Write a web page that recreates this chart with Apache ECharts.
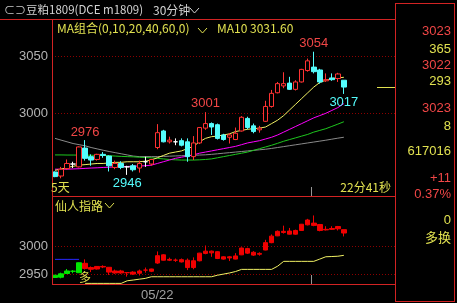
<!DOCTYPE html>
<html><head><meta charset="utf-8">
<script src="https://cdn.jsdelivr.net/npm/echarts@6/dist/echarts.min.js"></script>
<style>html,body{margin:0;padding:0;background:#000;}#c{width:457px;height:303px;}</style>
</head><body><div id="c"></div>
<script>
// ---------- data ----------
const categories = (function(){ const a=[]; for(let i=0;i<57;i++) a.push(i===17?'05/22':''); return a; })();
const opens  = [2948.5,2945,2951.5,2955.5,2953,2969.5,2962,2959.5,2964,2962.5,2952.5,2956,2953,2954,2952,2957.5,2955.5,2970,2984.5,2975,2975,2976,2975,2962,2974,2987,2991,2990,2981,2979,2977,2984.5,2995.5,2989,2985.5,2993,3006,3018,3024,3026.5,3021,3027.5,3037.5,3040.5,3038,3028.5,3031,3030.5,3029];
const closes = [2944.5,2951,2956,2955.5,2970.5,2960.5,2959,2964,2963,2954,2956,2952.5,2953,2950.5,2956,2957.5,2959.5,2983,2975,2976.5,2975,2972,2962,2974,2987.5,2991,2988,2978,2977,2981,2982.5,2996.5,2987.5,2984,2987,3006,3017.5,3026,3026,3021,3027.5,3038.5,3046,3036.5,3027.5,3029.5,3029.5,3034.5,3023];
const lows   = [2944,2943,2950.5,2952,2952.5,2958.5,2954,2958.5,2961,2949,2951,2951,2946,2949,2948,2953,2954,2968.5,2974.5,2973.5,2972,2971,2957.5,2959,2973,2985.5,2981,2977,2976,2973.5,2976.5,2984,2986,2982.5,2983,2992.5,3005,3017.5,3022,3020.5,3020,3027,3036.5,3035,3026,3027.5,3028.5,3027.5,3017];
const highs  = [2949,2953,2959.5,2957.5,2971,2976.5,2964,2964.5,2966,2963,2958.5,2958,2954,2955.5,2958.5,2962,2960,2990.5,2985.5,2979.5,2978,2978,2978,2980,2988,3001,2992,2991,2982,2982.5,2987.5,2997.5,2997,2991,2989,3011,3020.5,3027.5,3036,3032,3029,3039,3048,3054,3039,3035,3035,3035.5,3029];
const ma10 = [2950,2951,2952.5,2953.5,2954.5,2955,2955.5,2956,2956,2956.5,2957,2957,2957.5,2957.5,2957.5,2958,2959,2961,2963,2965,2966,2967,2969,2971,2975,2978,2979.5,2980,2981,2982,2984,2985,2986,2986.5,2987,2988,2991,2994,2998,3003,3008,3013,3018,3023,3027,3029,3030.5,3031,3031.6];
const ma20 = [2951,2951,2951,2951.2,2951.4,2951.7,2952,2952.2,2952.5,2952.7,2953,2953.2,2953.4,2953.6,2953.8,2954,2954.5,2956,2957.5,2959,2960.5,2961.5,2962.5,2963.5,2965,2966,2967,2968,2969,2970,2971,2972.5,2974,2975,2976,2977.5,2979,2981,2983.5,2986,2988.5,2991,2993.5,2996,2998,3000,3002.5,3005,3008.5];
const ma40 = [2963.5,2963.5,2963.4,2963.4,2963.3,2963.3,2963.2,2963.1,2963,2962.8,2962.5,2962.2,2962,2961.8,2961.5,2961.2,2961,2960.5,2960,2959.5,2959.2,2959,2959,2959,2959.2,2959.5,2960,2961,2962,2963,2964,2965,2966,2967.5,2969,2970.5,2972,2973.7,2975.5,2977,2978.5,2980,2981.5,2983.5,2985,2986.5,2988.5,2990.5,2992.6];
const ma60 = [2978,2976.5,2975,2973.5,2972.5,2971.5,2970,2968.8,2967.6,2966.5,2965.5,2964.5,2963.5,2962.5,2962,2962,2962,2962,2962.2,2962.4,2962.6,2962.8,2963,2963.2,2963.4,2963.6,2964,2964.5,2965,2965.5,2966,2966.5,2967,2967.5,2968,2968.5,2969.2,2970,2970.8,2971.6,2972.4,2973.2,2974,2974.8,2975.6,2976.4,2977.3,2978.2,2979];
const xrzlLine = [null,null,null,null,null,2934.1,2934.1,2934.1,2934.1,2934.1,2934.1,2934.1,2938.7,2940,2941.5,2942.9,2945.8,2945.8,2945.8,2945.8,2945.8,2945.8,2945.8,2945.8,2945.8,2945.8,2945.8,2948.5,2950.5,2952.5,2955,2958.8,2958.8,2958.8,2958.8,2958.8,2958.8,2964.5,2973,2973,2973,2973,2973,2973,2977,2981.1,2981.5,2982,2983.6];
const xrzlBlue = [2976.5,2976.5,2976.5,2976.5,2976.5];
const xrzlSignalIdx = 5;          // index where the "多" signal appears
const bullCount = 5;              // leading bars drawn in green in the lower panel
const mainTicks = [3000, 3050];
const subTicks = [2950, 3000];
const highIdx = [5, 25, 43], highVal = [2976, 3001, 3054];
const lowIdx = [12, 48], lowVal = [2946, 3017];
const quoteTexts = ['3023','365','3022','293','3023','8','617016','+11','0.37%','0','多换'];
const quoteKinds = ['r','y','r','y','r','y','y','r','r','y','y'];
const quoteRows  = [31.7,49,65,81.7,108.3,126,151.7,178.3,194,220,237.3];
const tickIdx = 43;   // session boundary before this bar

// ---------- styles ----------
const RED='#ff3232', CYAN='#54fcfc', FRAME='#d22323', YEL='#e1e150', TXT='#d2d2d2';
const FONT_CJK = '"Noto Sans CJK SC", sans-serif';
const FONT_NUM = '"Liberation Sans", Arial, sans-serif';

const ohlc = opens.map((o,i)=>[o, closes[i], lows[i], highs[i]]);
const subData = ohlc.map((v,i)=> i<bullCount ? {value:v, itemStyle:{color:'#00e600',color0:'#00e600',borderColor:'#00e600',borderColor0:'#00e600',borderColorDoji:'#00e600'}} : v);

function buildOption(extraGraphic){
  const g = [];
  const txt = (text,x,y,fill,font,align)=>g.push({type:'text', silent:true, z:100, style:{text, x, y, fill, font, textAlign:align||'left', textVerticalAlign:'middle'}});
  const chev = (x,y,color)=>g.push({type:'polyline', silent:true, z:100, shape:{points:[[x,y],[x+4.5,y+5],[x+9,y]]}, style:{stroke:color, lineWidth:1, fill:null}});
  const hl = (x1,x2,y)=>g.push({type:'line', silent:true, z:50, shape:{x1,y1:y+0.5,x2,y2:y+0.5}, style:{stroke:FRAME,lineWidth:1}});
  const vl = (x,y1,y2)=>g.push({type:'line', silent:true, z:50, shape:{x1:x+0.5,y1,x2:x+0.5,y2}, style:{stroke:FRAME,lineWidth:1}});
  // frames
  hl(0, 395, 19); hl(52, 395, 196); hl(52, 395, 284);
  vl(52, 19, 284); vl(395, 3, 302); vl(454, 3, 302);
  hl(395, 455, 3); hl(395, 455, 301);
  // header
  txt('⊂⊃', 4, 10, '#c8c8c8', '11px '+FONT_CJK);
  txt('豆粕1809(DCE m1809)', 26, 10, TXT, '11.5px '+FONT_CJK);
  txt('30分钟', 153, 10, TXT, '12px '+FONT_CJK);
  chev(190, 8, TXT);
  txt('MA组合(0,10,20,40,60,0)', 57, 28.5, YEL, '12px '+FONT_CJK);
  chev(198, 28, YEL);
  txt('MA10 ' + ma10[ma10.length-1].toFixed(2), 217, 28.5, YEL, '12px '+FONT_CJK);
  txt('5天', 51, 187, YEL, '12px '+FONT_CJK);
  txt('22分41秒', 391, 187, YEL, '12px '+FONT_CJK, 'right');
  txt('仙人指路', 55, 206, YEL, '12px '+FONT_CJK);
  chev(105, 203, YEL);
  quoteTexts.forEach((t,k)=>txt(t, 451, quoteRows[k], quoteKinds[k]==='r' ? '#f04646' : YEL, '13px '+(k===10?FONT_CJK:FONT_NUM), 'right'));
  (extraGraphic||[]).forEach(e=>g.push(e));

  const yLab = {color:'#b4b4b4', fontSize:13, fontFamily:FONT_NUM, margin:4, formatter:(v)=>String(v)};
  return {
    backgroundColor:'#000',
    animation:false,
    grid:[
      {left:52, top:19, width:343, height:178, show:false},
      {left:52, top:197, width:343, height:87, show:false}
    ],
    xAxis:[
      {type:'category', gridIndex:0, data:categories, boundaryGap:true, axisLine:{show:false}, axisLabel:{show:false}, axisTick:{show:false}, splitLine:{show:false}},
      {type:'category', gridIndex:1, data:categories, boundaryGap:true, axisLine:{show:false},
       axisLabel:{show:true, interval:0, color:'#a0a0a0', fontSize:13, fontFamily:FONT_NUM, margin:5},
       axisTick:{show:false}, splitLine:{show:false}}
    ],
    yAxis:[
      {type:'value', gridIndex:0, min:2926.6, max:3082.7, axisLine:{show:false},
       axisTick:{show:false, customValues:mainTicks}, axisLabel:Object.assign({customValues:mainTicks}, yLab),
       splitLine:{show:true, lineStyle:{color:'#8c0000', type:[1,2], width:1}}},
      {type:'value', gridIndex:1, min:2933, max:3086.6, axisLine:{show:false},
       axisTick:{show:false, customValues:subTicks}, axisLabel:Object.assign({customValues:subTicks}, yLab),
       splitLine:{show:true, lineStyle:{color:'#8c0000', type:[1,2], width:1}}}
    ],
    series:[
      {type:'line', xAxisIndex:0, yAxisIndex:0, data:ma60, showSymbol:false, z:2, lineStyle:{color:'#8a8a8a', width:1}},
      {type:'line', xAxisIndex:0, yAxisIndex:0, data:ma40, showSymbol:false, z:2, lineStyle:{color:'#1ec81e', width:1}},
      {type:'line', xAxisIndex:0, yAxisIndex:0, data:ma20, showSymbol:false, z:2, lineStyle:{color:'#ff00ff', width:1}},
      {type:'line', xAxisIndex:0, yAxisIndex:0, data:ma10, showSymbol:false, z:2, lineStyle:{color:'#f0f064', width:1}},
      {type:'candlestick', xAxisIndex:0, yAxisIndex:0, data:ohlc, barWidth:5, z:3,
       itemStyle:{color:'#000', color0:CYAN, borderColor:RED, borderColor0:CYAN, borderColorDoji:'#ffffff', borderWidth:1},
       markPoint:{symbol:'circle', symbolSize:0, silent:true,
         data: highIdx.map((ix,k)=>({coord:[ix, highVal[k]], value:highVal[k], label:{position:'top', distance:2, color:'#f04646'}}))
           .concat(lowIdx.map((ix,k)=>({coord:[ix, lowVal[k]], value:lowVal[k], label:{position:'bottom', distance:2, color:CYAN}}))),
         label:{show:true, fontSize:13, fontFamily:FONT_NUM, formatter:(p)=>String(p.value)}}},
      {type:'candlestick', xAxisIndex:1, yAxisIndex:1, data:subData, barWidth:5, z:3,
       itemStyle:{color:'#f00000', color0:'#f00000', borderColor:'#f00000', borderColor0:'#f00000', borderColorDoji:'#f00000', borderWidth:1}},
      {type:'line', xAxisIndex:1, yAxisIndex:1, data:xrzlBlue, showSymbol:false, z:2, lineStyle:{color:'#2828ff', width:1}},
      {type:'line', xAxisIndex:1, yAxisIndex:1, data:xrzlLine, showSymbol:false, z:2, lineStyle:{color:'#f0f064', width:1},
       markPoint:{symbol:'circle', symbolSize:0, silent:true,
         data:[{coord:[xrzlSignalIdx, xrzlLine[xrzlSignalIdx]], value:'多'}],
         label:{show:true, position:'top', distance:0, color:YEL, fontSize:12, fontFamily:FONT_CJK, formatter:'多'}}}
    ],
    graphic: g
  };
}

const chart = echarts.init(document.getElementById('c'));
chart.setOption(buildOption());
const lastPx = chart.convertToPixel({xAxisIndex:0, yAxisIndex:0}, [54, closes[closes.length-1]]);
const pA = chart.convertToPixel({xAxisIndex:0, yAxisIndex:0}, [tickIdx-1, 3000]);
const pB = chart.convertToPixel({xAxisIndex:0, yAxisIndex:0}, [tickIdx, 3000]);
const tx = Math.round((pA[0]+pB[0])/2) + 0.5;
const ly = Math.round(lastPx[1]) + 0.5;
const tickStyle = {stroke:'#969696', lineWidth:1};
chart.setOption(buildOption([
  {type:'line', silent:true, z:60, shape:{x1:377, y1:ly, x2:395, y2:ly}, style:{stroke:YEL, lineWidth:1}},
  {type:'line', silent:true, z:60, shape:{x1:tx, y1:187, x2:tx, y2:196}, style:tickStyle},
  {type:'line', silent:true, z:60, shape:{x1:tx, y1:275, x2:tx, y2:284}, style:tickStyle}
]), true);
</script>
</body></html>
